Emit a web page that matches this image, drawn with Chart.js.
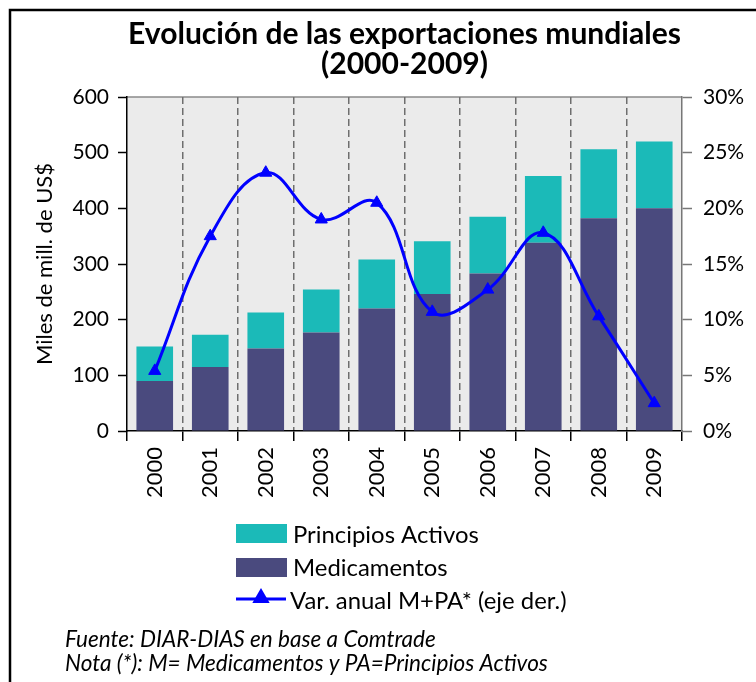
<!DOCTYPE html>
<html>
<head>
<meta charset="utf-8">
<script src="https://cdn.jsdelivr.net/npm/chart.js@4.4.1/dist/chart.umd.min.js"></script>
<style>
  html, body { margin: 0; padding: 0; background: #fff; }
  #wrap { width: 756px; height: 682px; }
</style>
</head>
<body>
<div id="wrap"><canvas id="chart" width="756" height="682"></canvas></div>
<script>
// data
const years = ['2000', '2001', '2002', '2003', '2004', '2005', '2006', '2007', '2008', '2009']
const medicamentos = [90, 115, 148, 177, 220, 246, 283, 338, 382, 400]
const principiosActivos = [62, 58, 65, 77, 88, 95, 102, 120, 124, 120]
const varAnual = [5.4, 17.5, 23.2, 19.0, 20.5, 10.7, 12.7, 17.8, 10.3, 2.5]
const leftMax = 600
const leftStep = 100
const rightMax = 30
const rightStep = 5

const TEAL = '#1bbab8'
const NAVY = '#4a4a7e'
const BLUE = '#0000ff'
const FAMILY = 'Lato, "Open Sans", sans-serif'

Chart.defaults.font.family = FAMILY
Chart.defaults.color = '#000'

// scale the font so the text takes the given width
function fitFont(ctx, text, width, style) {
  ctx.font = `${style} 100px ${FAMILY}`
  const size = 100 * width / ctx.measureText(text).width
  ctx.font = `${style} ${size.toFixed(2)}px ${FAMILY}`
  return size
}

const framePlugin = {
  id: 'frame',
  beforeDraw(chart) {
    const { ctx, chartArea: a } = chart
    ctx.save()
    ctx.fillStyle = '#fff'
    ctx.fillRect(0, 0, chart.width, chart.height)
    ctx.fillStyle = '#ebebeb'
    ctx.fillRect(a.left, a.top, a.right - a.left, a.bottom - a.top)
    ctx.strokeStyle = '#8a8a8a'
    ctx.lineWidth = 1.5
    ctx.beginPath()
    ctx.moveTo(a.left, a.top)
    ctx.lineTo(a.right, a.top)
    ctx.stroke()
    // page frame
    ctx.strokeStyle = '#000'
    ctx.lineWidth = 2.5
    ctx.beginPath()
    ctx.moveTo(10, chart.height)
    ctx.lineTo(10, 10)
    ctx.lineTo(chart.width, 10)
    ctx.stroke()
    ctx.restore()
  },
}

const textPlugin = {
  id: 'texts',
  afterDraw(chart) {
    const { ctx, chartArea: a } = chart
    const cx = (a.left + a.right) / 2
    ctx.save()
    ctx.fillStyle = '#000'
    ctx.textBaseline = 'alphabetic'
    ctx.textAlign = 'center'
    const titleSize = fitFont(ctx, 'Evolución de las exportaciones mundiales', 553, 'bold')
    ctx.fillText('Evolución de las exportaciones mundiales', cx, 44)
    ctx.font = `bold ${titleSize.toFixed(2)}px ${FAMILY}`
    ctx.fillText('(2000-2009)', cx, 74)

    // legend
    ctx.textAlign = 'left'
    ctx.textBaseline = 'middle'
    ctx.fillStyle = TEAL
    ctx.fillRect(236, 524, 51, 19)
    ctx.fillStyle = NAVY
    ctx.fillRect(236, 558, 51, 19)
    ctx.strokeStyle = BLUE
    ctx.lineWidth = 3
    ctx.beginPath()
    ctx.moveTo(236, 599)
    ctx.lineTo(286, 599)
    ctx.stroke()
    ctx.fillStyle = BLUE
    Chart.helpers.drawPoint(ctx, { pointStyle: 'triangle', radius: 7, borderWidth: 1 }, 261, 598)
    ctx.fillStyle = '#000'
    fitFont(ctx, 'Principios Activos', 186, '')
    ctx.fillText('Principios Activos', 293, 535)
    ctx.fillText('Medicamentos', 293, 568)
    ctx.fillText('Var. anual M+PA* (eje der.)', 290, 601)

    // notes
    fitFont(ctx, 'Nota (*): M= Medicamentos y PA=Principios Activos', 483, 'italic')
    ctx.fillText('Fuente: DIAR-DIAS en base a Comtrade', 65, 640)
    ctx.fillText('Nota (*): M= Medicamentos y PA=Principios Activos', 65, 664)
    ctx.restore()
  },
}

new Chart(document.getElementById('chart'), {
  data: {
    labels: years,
    datasets: [
      {
        type: 'line',
        label: 'Var. anual M+PA* (eje der.)',
        data: varAnual,
        yAxisID: 'y1',
        order: 0,
        borderColor: BLUE,
        borderWidth: 3,
        tension: 0.4,
        pointStyle: 'triangle',
        pointRadius: 7,
        pointBackgroundColor: BLUE,
        pointBorderColor: BLUE,
        pointBorderWidth: 1,
      },
      {
        type: 'bar',
        label: 'Medicamentos',
        data: medicamentos,
        yAxisID: 'y',
        order: 1,
        backgroundColor: NAVY,
        barPercentage: 0.66,
        categoryPercentage: 1,
      },
      {
        type: 'bar',
        label: 'Principios Activos',
        data: principiosActivos,
        yAxisID: 'y',
        order: 2,
        backgroundColor: TEAL,
        barPercentage: 0.66,
        categoryPercentage: 1,
      },
    ],
  },
  options: {
    responsive: false,
    animation: false,
    events: [],
    layout: { padding: { top: 97, left: 20, right: 0, bottom: 171 } },
    plugins: {
      legend: { display: false },
      tooltip: { enabled: false },
      title: { display: false },
    },
    scales: {
      x: {
        stacked: true,
        offset: true,
        grid: {
          offset: true,
          drawOnChartArea: true,
          color: (c) => (c.type === 'tick' && c.index > 0 ? '#6e6e6e' : 'rgba(0,0,0,0)'),
          lineWidth: 1.5,
          tickColor: '#000',
          tickWidth: 1.5,
          tickLength: 10,
        },
        border: { color: '#000', width: 1.5, dash: [7, 4] },
        ticks: {
          autoSkip: false,
          maxRotation: 90,
          minRotation: 90,
          padding: 6,
          color: '#000',
          font: { size: 22 },
        },
        afterFit: (s) => { s.height = 80 },
      },
      y: {
        stacked: true,
        position: 'left',
        min: 0,
        max: leftMax,
        ticks: { stepSize: leftStep, padding: 9, color: '#000', font: { size: 21 } },
        grid: { drawOnChartArea: false, tickLength: 9, tickColor: '#000', tickWidth: 1.5 },
        border: { color: '#000', width: 1.5 },
        title: {
          display: true,
          text: 'Miles de mill. de US$',
          color: '#000',
          font: { size: 22 },
          padding: { top: 12, bottom: 0 },
        },
        afterFit: (s) => { s.width = 107 },
      },
      y1: {
        position: 'right',
        min: 0,
        max: rightMax,
        ticks: {
          stepSize: rightStep,
          padding: 11,
          color: '#000',
          font: { size: 21 },
          callback: (v) => v + '%',
        },
        grid: { drawOnChartArea: false, tickLength: 10, tickColor: '#777', tickWidth: 1.5 },
        border: { color: '#777', width: 1.5 },
        afterFit: (s) => { s.width = 74 },
      },
    },
  },
  plugins: [framePlugin, textPlugin],
})
</script>
</body>
</html>
